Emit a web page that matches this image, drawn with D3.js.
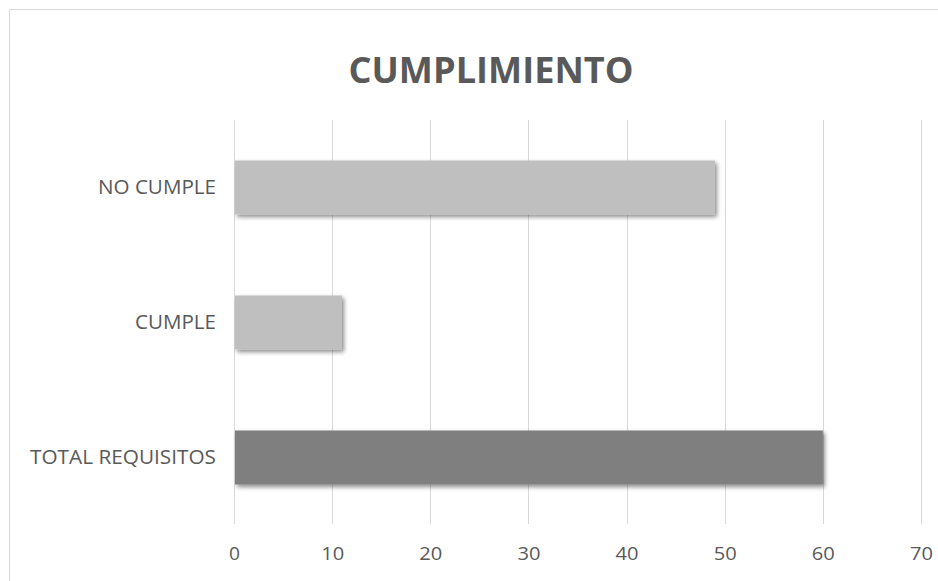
<!DOCTYPE html>
<html>
<head>
<meta charset="utf-8">
<script src="https://cdn.jsdelivr.net/npm/d3@7"></script>
<style>
  html, body { margin: 0; padding: 0; background: #fff; }
  svg { display: block; }
</style>
</head>
<body>
<svg id="chart" width="938" height="581"></svg>
<script>
const title = "CUMPLIMIENTO";
const categories = ["NO CUMPLE", "CUMPLE", "TOTAL REQUISITOS"];
const values = [49, 11, 60];
const xTicks = [0, 10, 20, 30, 40, 50, 60, 70];

const barFill = { "NO CUMPLE": "#bfbfbf", "CUMPLE": "#bfbfbf", "TOTAL REQUISITOS": "#7f7f7f" };
const labelWidth = { "NO CUMPLE": 118, "CUMPLE": 81, "TOTAL REQUISITOS": 186 };
const textColor = "#595959";
const font = "'Open Sans', 'Liberation Sans', sans-serif";

const svg = d3.select("#chart");
const W = 938, H = 581;
const plot = { left: 234, right: 921, top: 120, bottom: 525 };

// chart border
svg.append("rect")
  .attr("x", 9.5).attr("y", 9.5)
  .attr("width", W + 20).attr("height", H + 20)
  .attr("fill", "#fff").attr("stroke", "#d9d9d9").attr("stroke-width", 1);

const defs = svg.append("defs");
const f = defs.append("filter").attr("id", "shadow")
  .attr("x", "-5%").attr("y", "-20%").attr("width", "115%").attr("height", "160%");
f.append("feDropShadow").attr("dx", 2).attr("dy", 2.5).attr("stdDeviation", 2)
  .attr("flood-color", "#000").attr("flood-opacity", 0.45);

const x = d3.scaleLinear().domain([0, 70]).range([plot.left, plot.right]);
const y = d3.scaleBand().domain(categories).range([plot.top, plot.bottom])
  .paddingInner(0.6).paddingOuter(0.3);

// gridlines
svg.append("g").selectAll("line").data(xTicks).join("line")
  .attr("x1", d => Math.round(x(d)) + 0.5).attr("x2", d => Math.round(x(d)) + 0.5)
  .attr("y1", plot.top).attr("y2", plot.bottom - 1)
  .attr("stroke", "#d9d9d9").attr("stroke-width", 1);

// bars
const data = categories.map((c, i) => ({ cat: c, val: values[i] }));
svg.append("g").selectAll("rect").data(data).join("rect")
  .attr("x", x(0) + 1)
  .attr("y", d => y(d.cat))
  .attr("width", d => x(d.val) - x(0) - 1)
  .attr("height", y.bandwidth())
  .attr("fill", d => barFill[d.cat])
  .attr("filter", "url(#shadow)");

// x axis labels
const xAxis = d3.axisBottom(x).tickValues(xTicks).tickSize(0).tickPadding(0);
const gx = svg.append("g").attr("transform", `translate(0,${plot.bottom + 35})`).call(xAxis);
gx.select(".domain").remove();
gx.selectAll("text")
  .attr("font-family", font).attr("font-size", 19)
  .attr("fill", textColor).attr("dy", 0).attr("y", 0)
  .attr("textLength", d => String(d).length === 1 ? 11 : 23)
  .attr("lengthAdjust", "spacingAndGlyphs");

// y axis labels
const yAxis = d3.axisLeft(y).tickSize(0).tickPadding(18);
const gy = svg.append("g").attr("transform", `translate(${plot.left},0)`).call(yAxis);
gy.select(".domain").remove();
gy.selectAll("text")
  .attr("font-family", font).attr("font-size", 20)
  .attr("fill", textColor)
  .attr("dy", "0.3em")
  .attr("textLength", d => labelWidth[d])
  .attr("lengthAdjust", "spacingAndGlyphs");

// title
svg.append("text")
  .attr("x", 491).attr("y", 83)
  .attr("text-anchor", "middle")
  .attr("font-family", font).attr("font-weight", "bold").attr("font-size", 35)
  .attr("fill", textColor)
  .attr("textLength", 285).attr("lengthAdjust", "spacingAndGlyphs")
  .text(title);
</script>
</body>
</html>
